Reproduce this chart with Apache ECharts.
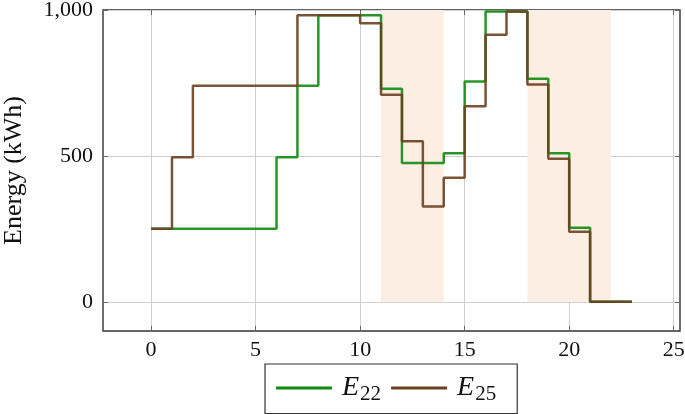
<!DOCTYPE html>
<html>
<head>
<meta charset="utf-8">
<script src="https://cdn.jsdelivr.net/npm/echarts@6/dist/echarts.min.js"></script>
<style>html,body{margin:0;padding:0;background:#fff;}#c{width:685px;height:414px;}</style>
</head>
<body>
<div id="c"></div>
<script>
const hours = [0,1,2,3,4,5,6,7,8,9,10,11,12,13,14,15,16,17,18,19,20,21,22,23];
const e22 = [250,250,250,250,250,250,495,740,982,982,982,730,476,476,509,755,995,995,764,509,254,0,0,0];
const e25 = [250,495,740,740,740,740,740,982,982,982,955,710,550,327,425,670,915,995,745,490,240,0,0,0];
const shadeRanges = [[11,14],[18,22]];
const xTicks = [0,5,10,15,20,25];
const yTicks = [0,500,1000];
const seriesNames = ['E22','E25'];

const FONT = 'Liberation Serif';
const chart = echarts.init(document.getElementById('c'), null, {renderer:'canvas'});
const pair = a => hours.map((h,i)=>[h,a[i]]);
const xBase = {
  type:'value', min:-2.3, max:25.3,
  axisLine:{show:false, onZero:false},
  axisTick:{show:true, inside:true, length:5, customValues:xTicks, lineStyle:{color:'#666', width:1}},
  splitLine:{show:true, lineStyle:{color:'#cfcfcf', width:1}},
  axisLabel:{show:true, customValues:xTicks, fontFamily:FONT, fontSize:22, color:'#111', margin:8}
};
const yBase = {
  type:'value', min:-100, max:1000,
  axisLine:{show:false, onZero:false},
  axisTick:{show:true, inside:true, length:5, customValues:yTicks, lineStyle:{color:'#666', width:1}},
  splitLine:{show:true, lineStyle:{color:'#cfcfcf', width:1}},
  axisLabel:{show:true, customValues:yTicks, fontFamily:FONT, fontSize:22, color:'#111', margin:10,
    formatter: v => v.toLocaleString('en-US')}
};
chart.setOption({
  animation:false,
  backgroundColor:'#fff',
  grid:{left:103, right:5, top:10, bottom:83, outerBoundsMode:'none', containLabel:false,
        show:true, borderColor:'#333', borderWidth:1.4, backgroundColor:'transparent'},
  xAxis:[
    Object.assign({}, xBase, {position:'bottom'}),
    Object.assign({}, xBase, {position:'top', axisLabel:{show:false, customValues:xTicks}, splitLine:{show:false}})
  ],
  yAxis:[
    Object.assign({}, yBase, {position:'left', name:'Energy (kWh)', nameLocation:'middle', nameGap:76,
      nameTextStyle:{fontFamily:FONT, fontSize:26, color:'#111'}}),
    Object.assign({}, yBase, {position:'right', axisLabel:{show:false, customValues:yTicks}, splitLine:{show:false}})
  ],
  legend:{
    left:265, top:364, orient:'horizontal',
    data:seriesNames,
    itemWidth:56, itemHeight:3, itemGap:10,
    backgroundColor:'#fff', borderColor:'#333', borderWidth:1.2, borderRadius:0,
    padding:[10,21,9,11],
    icon:'rect',
    formatter: n => '{i|E}{s|' + n.slice(1) + '}',
    textStyle:{
      fontFamily:FONT, fontSize:26, color:'#111', padding:[0,0,0,5],
      rich:{ i:{fontFamily:FONT, fontStyle:'italic', fontSize:28, color:'#111', height:27, verticalAlign:'middle'},
             s:{fontFamily:FONT, fontSize:21, color:'#111', height:27, verticalAlign:'middle', padding:[12,0,0,1]} }
    }
  },
  series:[
    {
      name:'E22', type:'line', step:'end', data:pair(e22), showSymbol:false, symbol:'none',
      lineStyle:{color:'#118a11', width:2.5, opacity:0.9}, itemStyle:{color:'#118a11'}, z:3,
      markArea:{silent:true, itemStyle:{color:'#fdeee3'},
        data: shadeRanges.map(r=>[{coord:[r[0],0]},{coord:[r[1],1000]}])}
    },
    {
      name:'E25', type:'line', step:'end', data:pair(e25), showSymbol:false, symbol:'none',
      lineStyle:{color:'#6a4020', width:2.5, opacity:0.9}, itemStyle:{color:'#6a4020'}, z:4
    }
  ]
});
</script>
</body>
</html>
